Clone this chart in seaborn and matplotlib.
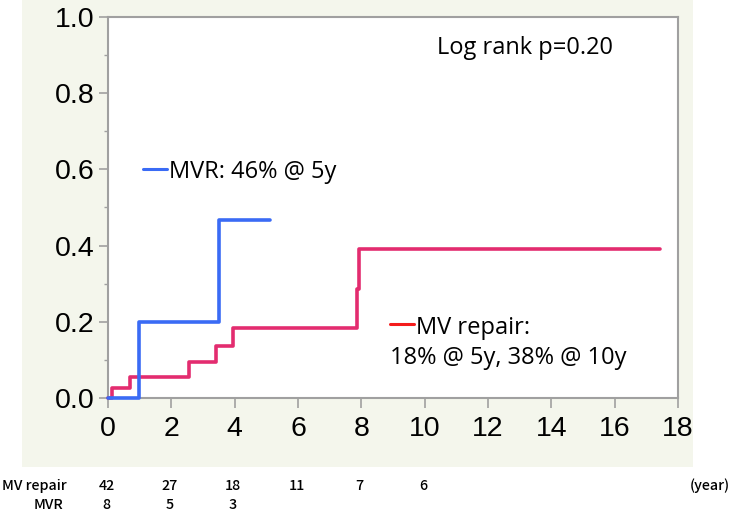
import matplotlib
matplotlib.use("Agg")
import matplotlib.pyplot as plt
from matplotlib.patches import Rectangle
from matplotlib.lines import Line2D
from matplotlib.ticker import MultipleLocator
import matplotlib.transforms as mtransforms
import seaborn as sns
import pandas as pd

# ---- data ----
mvr_time = [0, 0.98, 3.5, 5.1]
mvr_value = [0, 0.20, 0.467, 0.467]

repair_time = [0, 0.13, 0.69, 2.56, 3.41, 3.94, 7.85, 7.94, 17.43]
repair_value = [0, 0.027, 0.056, 0.094, 0.137, 0.184, 0.287, 0.39, 0.39]

risk_times = [0, 2, 4, 6, 8, 10]
risk_repair = [42, 27, 18, 11, 7, 6]
risk_mvr = [8, 5, 3]

x_ticks = [0, 2, 4, 6, 8, 10, 12, 14, 16, 18]
y_ticks = [0.0, 0.2, 0.4, 0.6, 0.8, 1.0]

BLUE = "#3A6BF5"
PINK = "#E32C6F"
LEGEND_RED = "#F41C1C"
SPINE = "#A0A0A0"
BEIGE = "#F4F6EC"

sns.set_theme(style="white")
plt.rcParams["font.family"] = ["Liberation Sans", "DejaVu Sans"]

W, H = 732, 512
fig = plt.figure(figsize=(W / 100, H / 100), dpi=100, facecolor="white")
fig.patches.append(Rectangle((22 / W, 1 - 467 / H), (693 - 22) / W, 467 / H,
                             transform=fig.transFigure, facecolor=BEIGE,
                             edgecolor="none", zorder=-10))

left, right, top, bottom = 108, 678, 17, 398
ax = fig.add_axes([left / W, 1 - bottom / H, (right - left) / W, (bottom - top) / H])
ax.set_zorder(1)
ax.set_facecolor("white")

df_mvr = pd.DataFrame({"t": mvr_time, "v": mvr_value})
df_rep = pd.DataFrame({"t": repair_time, "v": repair_value})
sns.lineplot(data=df_rep, x="t", y="v", ax=ax, drawstyle="steps-post",
             color=PINK, lw=2.6, estimator=None, sort=False, clip_on=False, zorder=3)
sns.lineplot(data=df_mvr, x="t", y="v", ax=ax, drawstyle="steps-post",
             color=BLUE, lw=2.6, estimator=None, sort=False, clip_on=False, zorder=4)

ax.set_xlim(0, 18)
ax.set_ylim(0, 1.0)
ax.set_xticks(x_ticks)
ax.set_yticks(y_ticks)
ax.set_yticklabels([f"{v:.1f}" for v in y_ticks])
ax.yaxis.set_minor_locator(MultipleLocator(0.1))
ax.set_xlabel("")
ax.set_ylabel("")

for s in ax.spines.values():
    s.set_visible(True)
    s.set_color(SPINE)
    s.set_linewidth(1.5)

ax.tick_params(axis="y", which="major", direction="out", length=6.5, width=1.2,
               color=SPINE, labelcolor="black", labelsize=20.5, pad=3, left=True)
ax.tick_params(axis="y", which="minor", direction="out", length=3, width=1.0,
               color=SPINE, left=True)
ax.tick_params(axis="x", which="major", direction="out", length=7, width=1.2,
               color=SPINE, labelcolor="black", labelsize=20.5, pad=6, bottom=True)

ann_font = ["Open Sans", "DejaVu Sans"]
ax.text(0.577, 0.919, "Log rank p=0.20", transform=ax.transAxes, fontsize=17,
        family=ann_font, ha="left", va="center", color="black")

ax.add_line(Line2D([0.0614, 0.1035], [0.601, 0.601], transform=ax.transAxes,
                   color=BLUE, lw=2.2))
ax.text(0.107, 0.593, "MVR: 46% @ 5y", transform=ax.transAxes, fontsize=17,
        family=ann_font, ha="left", va="center", color="black")

ax.add_line(Line2D([0.4947, 0.5368], [0.195, 0.195], transform=ax.transAxes,
                   color=LEGEND_RED, lw=2.2))
ax.text(0.540, 0.184, "MV repair:", transform=ax.transAxes, fontsize=17,
        family=ann_font, ha="left", va="center", color="black")
ax.text(0.4947, 0.106, "18% @ 5y, 38% @ 10y", transform=ax.transAxes, fontsize=17,
        family=ann_font, ha="left", va="center", color="black")

# ---- number at risk table ----
tbl_font = ["Noto Sans CJK JP", "DejaVu Sans"]
tbl_kw = dict(fontsize=10.3, family=tbl_font, fontweight="medium", color="black")
blend = mtransforms.blended_transform_factory(ax.transData, fig.transFigure)
y_rep = 1 - 486 / H
y_mvr = 1 - 505 / H
fig.text(2 / W, y_rep, "MV repair", ha="left", va="center", **tbl_kw)
fig.text(63 / W, y_mvr, "MVR", ha="right", va="center", **tbl_kw)
for t, n in zip(risk_times, risk_repair):
    ax.text(t - 0.05, y_rep, str(n), transform=blend, ha="center", va="center",
            clip_on=False, **tbl_kw)
for t, n in zip(risk_times, risk_mvr):
    ax.text(t - 0.05, y_mvr, str(n), transform=blend, ha="center", va="center",
            clip_on=False, **tbl_kw)
fig.text(730 / W, y_rep, "(year)", ha="right", va="center", **tbl_kw)

fig.savefig("out.png", dpi=100, facecolor="white")
